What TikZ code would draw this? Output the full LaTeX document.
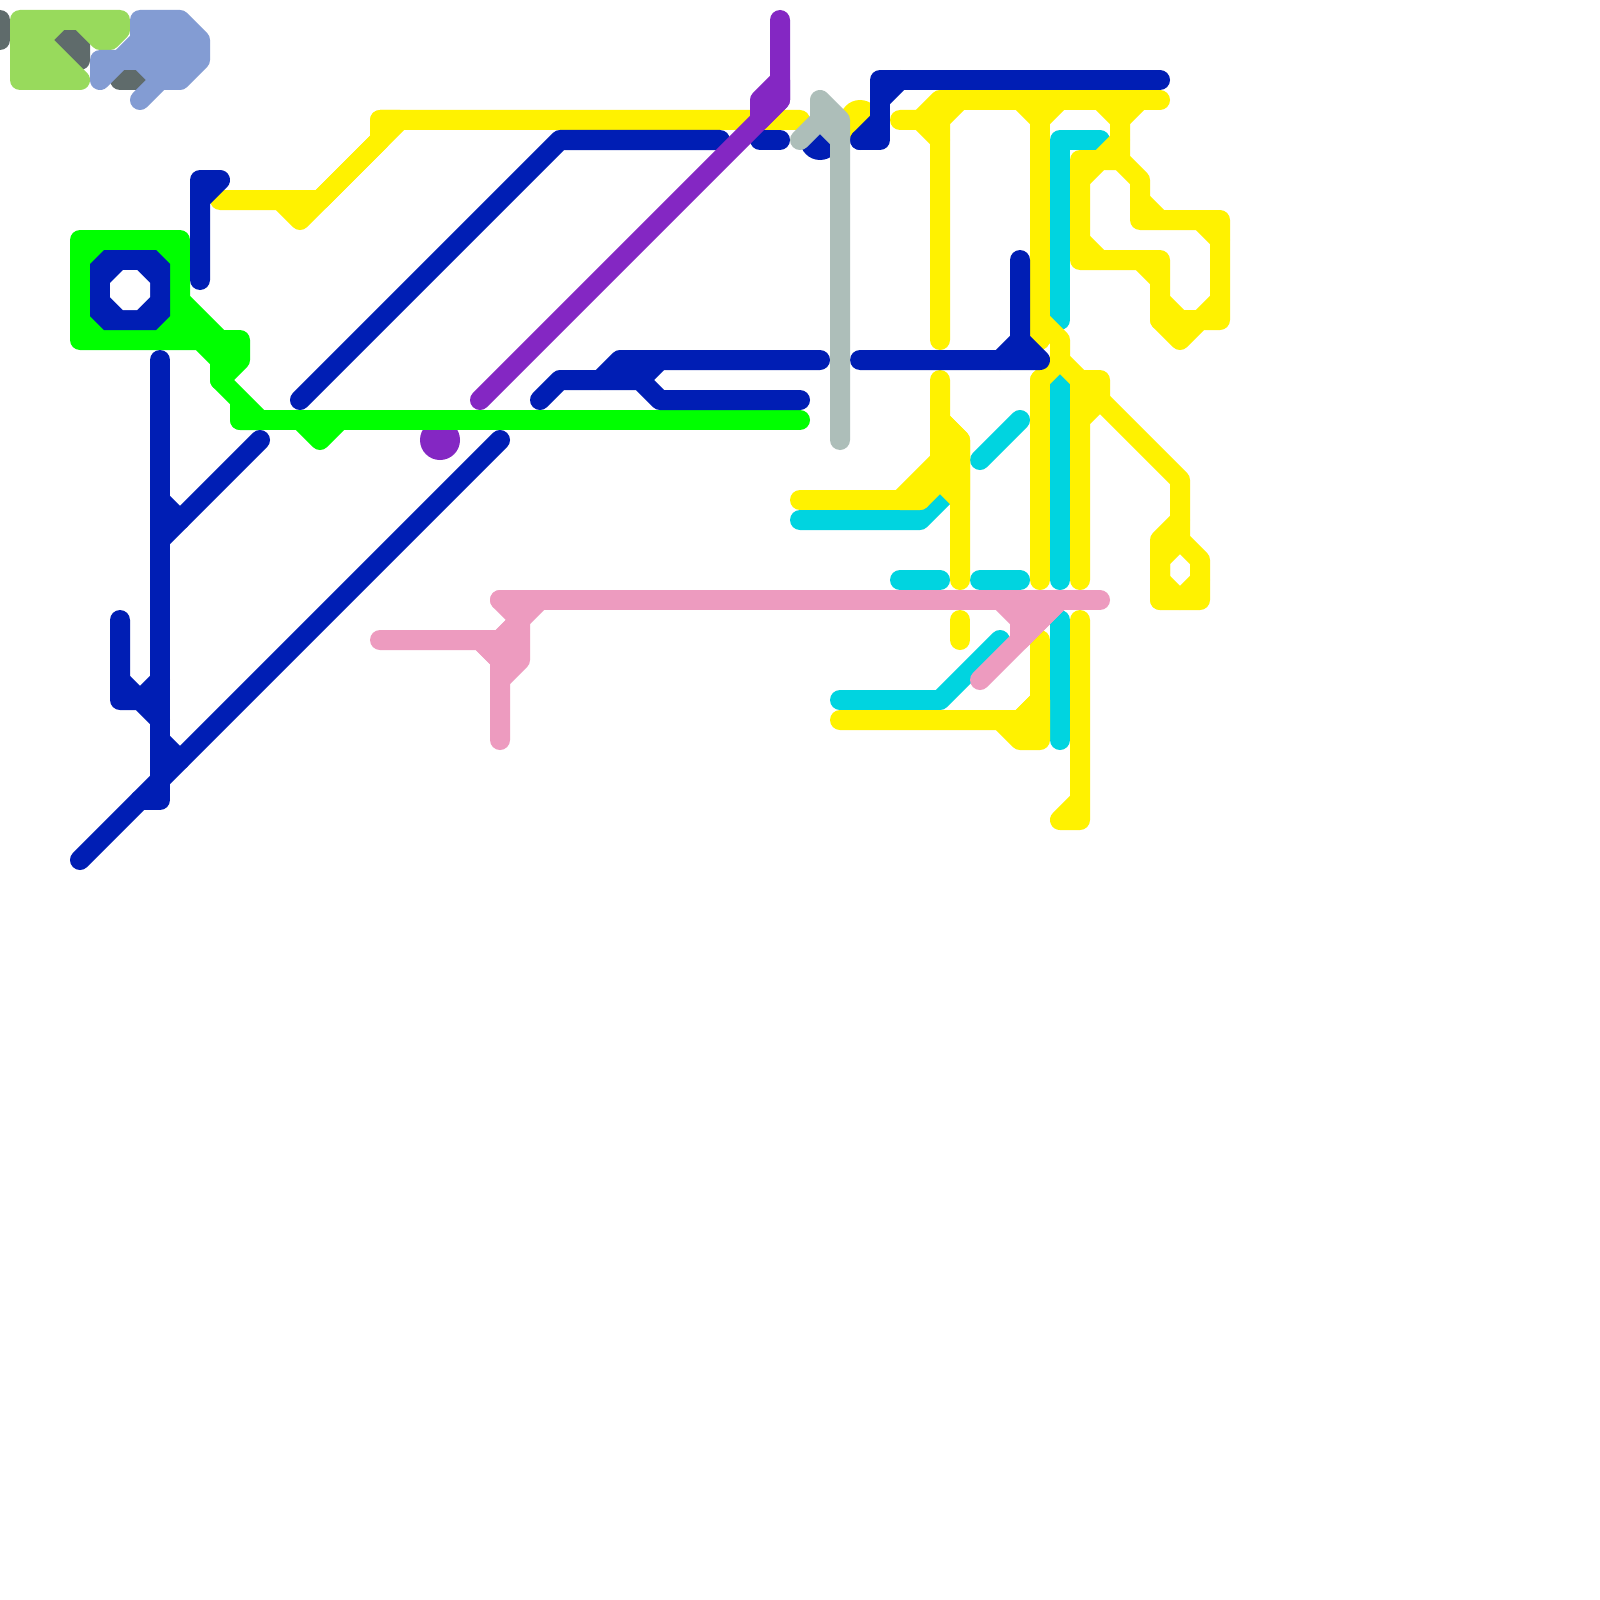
\documentclass[tikz,border=0pt]{standalone}
\definecolor{cYel}{HTML}{FFF200}
\definecolor{cNavy}{HTML}{001EB4}
\definecolor{cCyan}{HTML}{00D4E0}
\definecolor{cPink}{HTML}{ED9BBF}
\definecolor{cPurp}{HTML}{8427C3}
\definecolor{cSage}{HTML}{ADBEB9}
\definecolor{cLime}{HTML}{98DA5C}
\definecolor{cPeri}{HTML}{839CD3}
\definecolor{cSlate}{HTML}{5F6B6B}
\definecolor{cGreen}{HTML}{00FF00}
\tikzset{
  route/.style={line width=20pt,line cap=round,line join=round},
  yel/.style={route,draw=cYel,fill=none},
  navy/.style={route,draw=cNavy},
  cyanline/.style={route,draw=cCyan},
  pink/.style={route,draw=cPink},
  purp/.style={route,draw=cPurp},
  sage/.style={route,draw=cSage},
  lime/.style={route,draw=cLime},
  peri/.style={route,draw=cPeri},
  slate/.style={route,draw=cSlate},
  grn/.style={route,draw=cGreen}
}
\begin{document}
\begin{tikzpicture}[x=1pt,y=-1pt]
\useasboundingbox (0,0) rectangle (1600,1600);
\fill[white] (0,0) rectangle (1600,1600);
% slate
\draw[slate] (0,20) -- (0,40);
\filldraw[slate,fill=cSlate] (60,40) -- (80,40) -- (80,60) -- cycle;
\draw[slate] (120,80) -- (140,80);
% lime
\filldraw[lime,fill=cLime] (20,20) -- (120,20) -- (120,30) -- (110,40) -- (100,40) -- (80,20) -- (60,20) -- (40,40) -- (80,80) -- (20,80) -- cycle;
% periwinkle
\filldraw[peri,fill=cPeri] (140,20) -- (180,20) -- (200,40) -- (200,60) -- (180,80) -- (160,80) -- (140,60) -- (120,60) -- (140,40) -- cycle;
\draw[peri] (100,80) -- (100,60) -- (120,60) -- cycle;
\draw[peri] (160,80) -- (140,100);
% purple station
\fill[cPurp] (440,440) circle (20pt);
% cyan
\draw[cyanline] (1060,320) -- (1060,140) -- (1100,140);
\draw[cyanline] (1060,380) -- (1060,580);
\draw[cyanline] (800,520) -- (920,520) -- (950,490);
\draw[cyanline] (980,460) -- (1020,420);
\draw[cyanline] (900,580) -- (940,580);
\draw[cyanline] (980,580) -- (1020,580);
\draw[cyanline] (840,700) -- (940,700) -- (1000,640);
\draw[cyanline] (1060,620) -- (1060,740);
% yellow
\fill[cYel] (860,120) circle (20pt);
\draw[yel] (220,200) -- (320,200) -- (380,140) -- (380,120) -- (800,120);
\draw[yel] (280,200) -- (300,220) -- (400,120) -- (380,120);
\draw[yel] (900,120) -- (920,120) -- (940,140) -- (940,340);
\draw[yel] (920,120) -- (940,100) -- (1160,100);
\draw[yel] (940,140) -- (940,120) -- (960,100);
\draw[yel] (1020,100) -- (1040,120) -- (1060,100);
\draw[yel] (1040,120) -- (1040,340);
\draw[yel] (1040,380) -- (1040,580);
\draw[yel] (1040,320) -- (1060,340) -- (1060,360) -- (1080,380) -- (1100,380) -- (1100,400) -- (1080,420) -- (1080,580);
\draw[yel] (1040,380) -- (1060,360);
\draw[yel] (1080,380) -- (1080,420);
\draw[yel] (1100,400) -- (1180,480) -- (1180,540) -- (1160,560) -- (1160,600) -- (1200,600) -- (1200,560) -- (1180,540);
\draw[yel] (1160,600) -- (1160,540) -- (1180,520);
\draw[yel] (1160,580) -- (1180,600) -- (1200,580);
\draw[yel] (1100,100) -- (1120,120) -- (1140,100);
\draw[yel] (1120,120) -- (1120,160) -- (1140,180) -- (1140,220) -- (1220,220) -- (1220,320) -- (1200,320) -- (1180,340) -- (1160,320) -- (1160,280) -- (1140,260) -- (1160,260) -- (1160,300) -- (1180,320) -- (1200,320) -- (1220,300);
\draw[yel] (1140,200) -- (1160,220);
\draw[yel] (1200,220) -- (1220,240);
\draw[yel] (1120,140) -- (1100,160) -- (1080,160) -- (1080,260) -- (1140,260);
\draw[yel] (1080,180) -- (1100,160) -- (1120,160);
\draw[yel] (1080,240) -- (1100,260);
\draw[yel] (1160,320) -- (1200,320);
\draw[yel] (940,380) -- (940,420) -- (960,440) -- (960,580);
\draw[yel,fill=cYel] (940,420) -- (960,440) -- (960,500) -- (940,480) -- (920,500) -- (900,500) -- (940,460) -- cycle;
\draw[yel] (800,500) -- (920,500);
\draw[yel] (960,620) -- (960,640);
\draw[yel] (840,720) -- (1020,720) -- (1040,700);
\draw[yel,fill=cYel] (1000,720) -- (1020,740) -- (1040,740) -- (1040,700) -- (1020,720) -- cycle;
\draw[yel] (1040,700) -- (1040,640);
\draw[yel] (1080,620) -- (1080,820) -- (1060,820) -- (1080,800);
% bright green
\filldraw[grn,fill=cGreen] (80,240) -- (180,240) -- (180,300) -- (220,340) -- (240,340) -- (240,360) -- (220,380) -- (220,360) -- (200,340) -- (80,340) -- cycle;
\filldraw[grn,fill=cGreen] (220,380) -- (260,420) -- (240,420) -- (240,400) -- cycle;
\draw[grn] (240,420) -- (800,420);
\draw[grn] (300,420) -- (320,440) -- (340,420);
% pink
\draw[pink] (500,600) -- (1100,600);
\draw[pink] (380,640) -- (480,640) -- (500,660) -- (500,740);
\filldraw[pink,fill=cPink] (480,640) -- (500,640) -- (520,620) -- (520,660) -- (500,680) -- (500,660) -- cycle;
\draw[pink] (500,640) -- (540,600);
\draw[pink] (500,600) -- (520,620);
\draw[pink] (980,680) -- (1060,600);
\filldraw[pink,fill=cPink] (1000,600) -- (1020,620) -- (1020,640) -- (1060,600) -- cycle;
% navy
\fill[cNavy] (104,250) -- (156,250) -- (170,264) -- (170,316) -- (156,330) -- (104,330) -- (90,316) -- (90,264) -- cycle;
\fill[white] (123,270) -- (137,270) -- (150,283) -- (150,297) -- (137,310) -- (123,310) -- (110,297) -- (110,283) -- cycle;
\draw[navy] (200,280) -- (200,180) -- (220,180) -- (200,200);
\draw[navy] (160,360) -- (160,800) -- (140,800);
\draw[navy] (120,620) -- (120,700) -- (140,700) -- (160,720);
\draw[navy] (120,680) -- (140,700) -- (160,680);
\draw[navy] (160,740) -- (180,760);
\draw[navy] (80,860) -- (500,440);
\draw[navy] (160,500) -- (180,520);
\draw[navy] (160,540) -- (260,440);
\draw[navy] (300,400) -- (560,140) -- (720,140);
\draw[navy] (760,140) -- (780,140);
\fill[cNavy] (820,140) circle (20pt);
\draw[navy] (860,140) -- (880,140) -- (880,80) -- (1160,80);
\draw[navy] (860,140) -- (880,120);
\draw[navy] (880,100) -- (900,80);
\draw[navy] (540,400) -- (560,380) -- (640,380) -- (660,400) -- (800,400);
\draw[navy] (600,380) -- (620,360) -- (820,360);
\draw[navy] (640,380) -- (660,360);
\fill[cNavy] (620,350) rectangle (640,380);
\draw[navy] (860,360) -- (1040,360) -- (1020,340) -- (1020,260);
\draw[navy] (1000,360) -- (1020,340);
% sage
\filldraw[sage,fill=cSage] (840,440) -- (840,120) -- (820,100) -- (820,120) -- (800,140) -- (820,120) -- (840,140) -- cycle;
% purple
\draw[purp] (480,400) -- (780,100) -- (780,20);
\filldraw[purp,fill=cPurp] (780,80) -- (760,100) -- (760,120) -- (780,100) -- cycle;
\end{tikzpicture}
\end{document}
